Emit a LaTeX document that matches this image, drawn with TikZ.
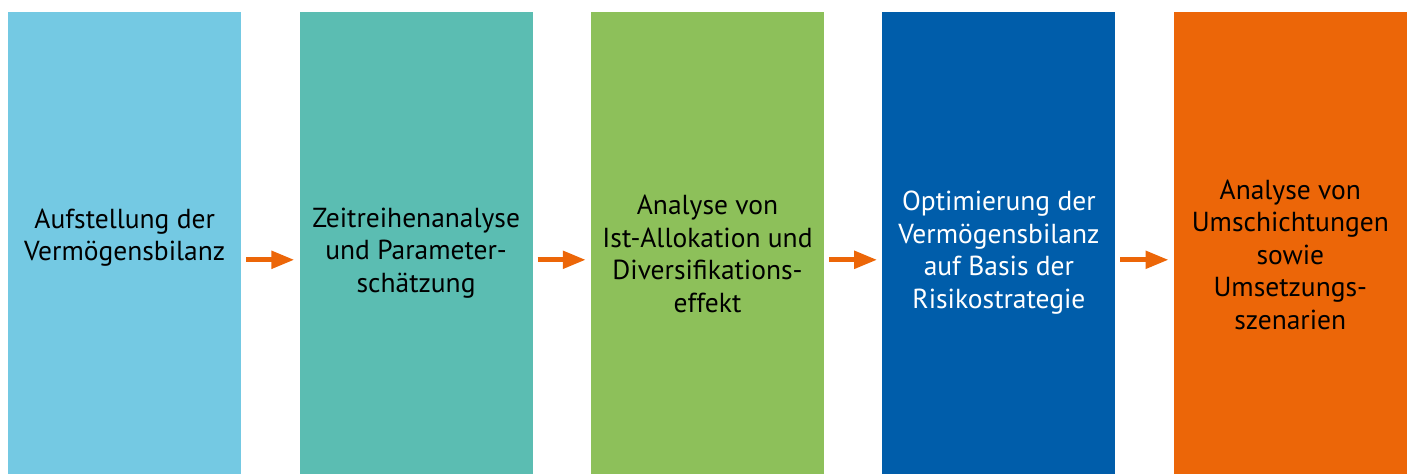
\documentclass[tikz,border=0pt]{standalone}
\usepackage{fontspec}
\setmainfont{PT Sans}
\usepackage{xcolor}
\definecolor{phaseOne}{HTML}{74C9E3}
\definecolor{phaseTwo}{HTML}{5BBDB2}
\definecolor{phaseThree}{HTML}{8DC05A}
\definecolor{phaseFour}{HTML}{005DAA}
\definecolor{phaseFive}{HTML}{EC6608}
\usepackage{tikz}
\usetikzlibrary{positioning}
\usetikzlibrary{arrows.meta}
\tikzstyle{phase} = [rectangle, inner sep=0pt, minimum width=233pt, minimum height=462pt]
\tikzstyle{caption} = [align=center, inner sep=0pt, font={\fontsize{27.5}{32.5}\selectfont}]
\tikzstyle{flow} = [draw=phaseFive, line width=5pt, -{Triangle[length=23pt,width=17pt]},
        shorten <=4.7pt, shorten >=5pt]

\begin{document}
\begin{tikzpicture}[node distance=58pt]
            \useasboundingbox (0,0) rectangle (1413pt,474pt);
            \node [phase, fill=phaseOne, anchor=south west] (aufstellung) at (8pt,0) {};
            \node [phase, fill=phaseTwo, right=of aufstellung] (zeitreihen) {};
            \node [phase, fill=phaseThree, right=of zeitreihen] (allokation) {};
            \node [phase, fill=phaseFour, right=of allokation] (optimierung) {};
            \node [phase, fill=phaseFive, right=of optimierung] (umschichtung) {};
            % captions
            \node [caption] at ([yshift=5pt]aufstellung.center) {Aufstellung der\\Vermögensbilanz};
            \node [caption] at ([yshift=-10pt]zeitreihen.center) {Zeitreihenanalyse\\und Parameter-\\schätzung};
            \node [caption] at ([yshift=-11pt]allokation.center) {Analyse von\\Ist-Allokation und\\Diversifikations-\\effekt};
            \node [caption, text=white] at ([yshift=-10pt]optimierung.center) {Optimierung der\\Vermögensbilanz\\auf Basis der\\Risikostrategie};
            \node [caption] at ([yshift=-12pt]umschichtung.center) {Analyse von\\Umschichtungen\\sowie\\Umsetzungs-\\szenarien};
            % arrows
            \draw [flow] ([yshift=-17pt]aufstellung.east) -- ([yshift=-17pt]zeitreihen.west);
            \draw [flow] ([yshift=-17pt]zeitreihen.east) -- ([yshift=-17pt]allokation.west);
            \draw [flow] ([yshift=-17pt]allokation.east) -- ([yshift=-17pt]optimierung.west);
            \draw [flow] ([yshift=-17pt]optimierung.east) -- ([yshift=-17pt]umschichtung.west);
        \end{tikzpicture}
\end{document}
